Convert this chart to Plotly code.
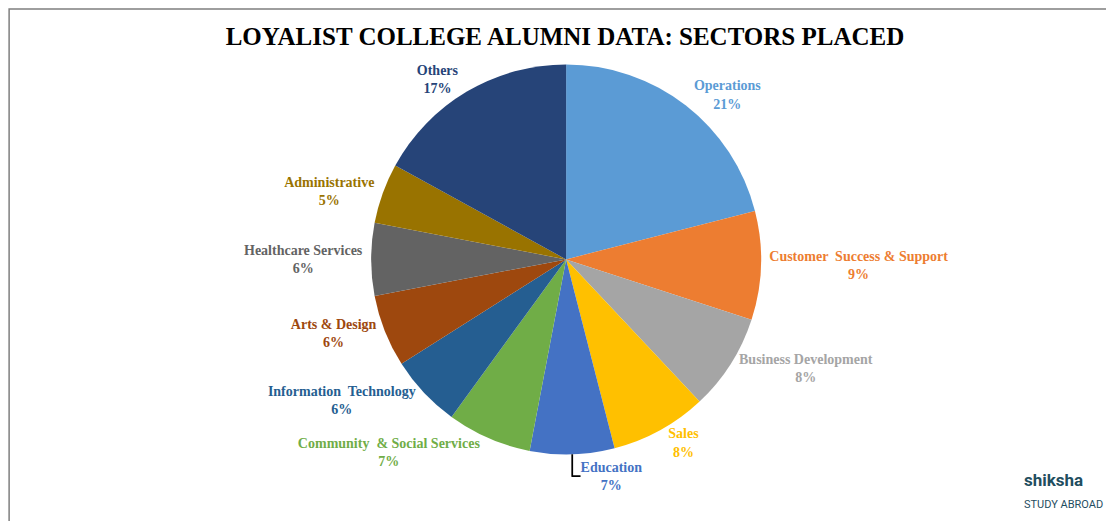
import plotly.graph_objects as go

labels = ["Operations", "Customer  Success & Support", "Business Development", "Sales", "Education",
          "Community  & Social Services", "Information  Technology", "Arts & Design", "Healthcare Services",
          "Administrative", "Others"]
values = [21, 9, 8, 8, 7, 7, 6, 6, 6, 5, 17]
colors = ["#5B9BD5", "#ED7D31", "#A5A5A5", "#FFC000", "#4472C4", "#70AD47", "#255E91", "#9E480E",
          "#636363", "#997300", "#264478"]

fig = go.Figure(go.Pie(
    labels=labels, values=values, sort=False, direction="clockwise", rotation=0,
    marker=dict(colors=colors, line=dict(color="white", width=0)),
    texttemplate="<b>%{label}<br>%{percent:.0%}</b>", textposition="outside",
    outsidetextfont=dict(family="Liberation Serif", size=14, color=colors),
    showlegend=False,
    domain=dict(x=[0.326, 0.676], y=[0.143, 0.892]),
))
fig.update_layout(
    width=1114, height=521, margin=dict(l=0, r=0, t=0, b=0),
    paper_bgcolor="white",
    title=dict(text="<b>LOYALIST COLLEGE ALUMNI DATA: SECTORS PLACED</b>", x=0.5, y=0.945,
               xanchor="center", yanchor="middle",
               font=dict(family="Liberation Serif", size=25, color="black")),
    shapes=[dict(type="rect", xref="paper", yref="paper", x0=0.001, y0=0.002, x1=0.999, y1=0.998,
                 line=dict(color="#7F7F7F", width=1.5))],
    annotations=[dict(text="<b>shiksha</b><br><span style='font-size:11px'>STUDY ABROAD</span>",
                      x=0.985, y=0.03, xref="paper", yref="paper", xanchor="right", yanchor="bottom",
                      showarrow=False, align="left",
                      font=dict(family="Roboto", size=17, color="#1F4E5F"))],
)
fig.write_html("out.html")
